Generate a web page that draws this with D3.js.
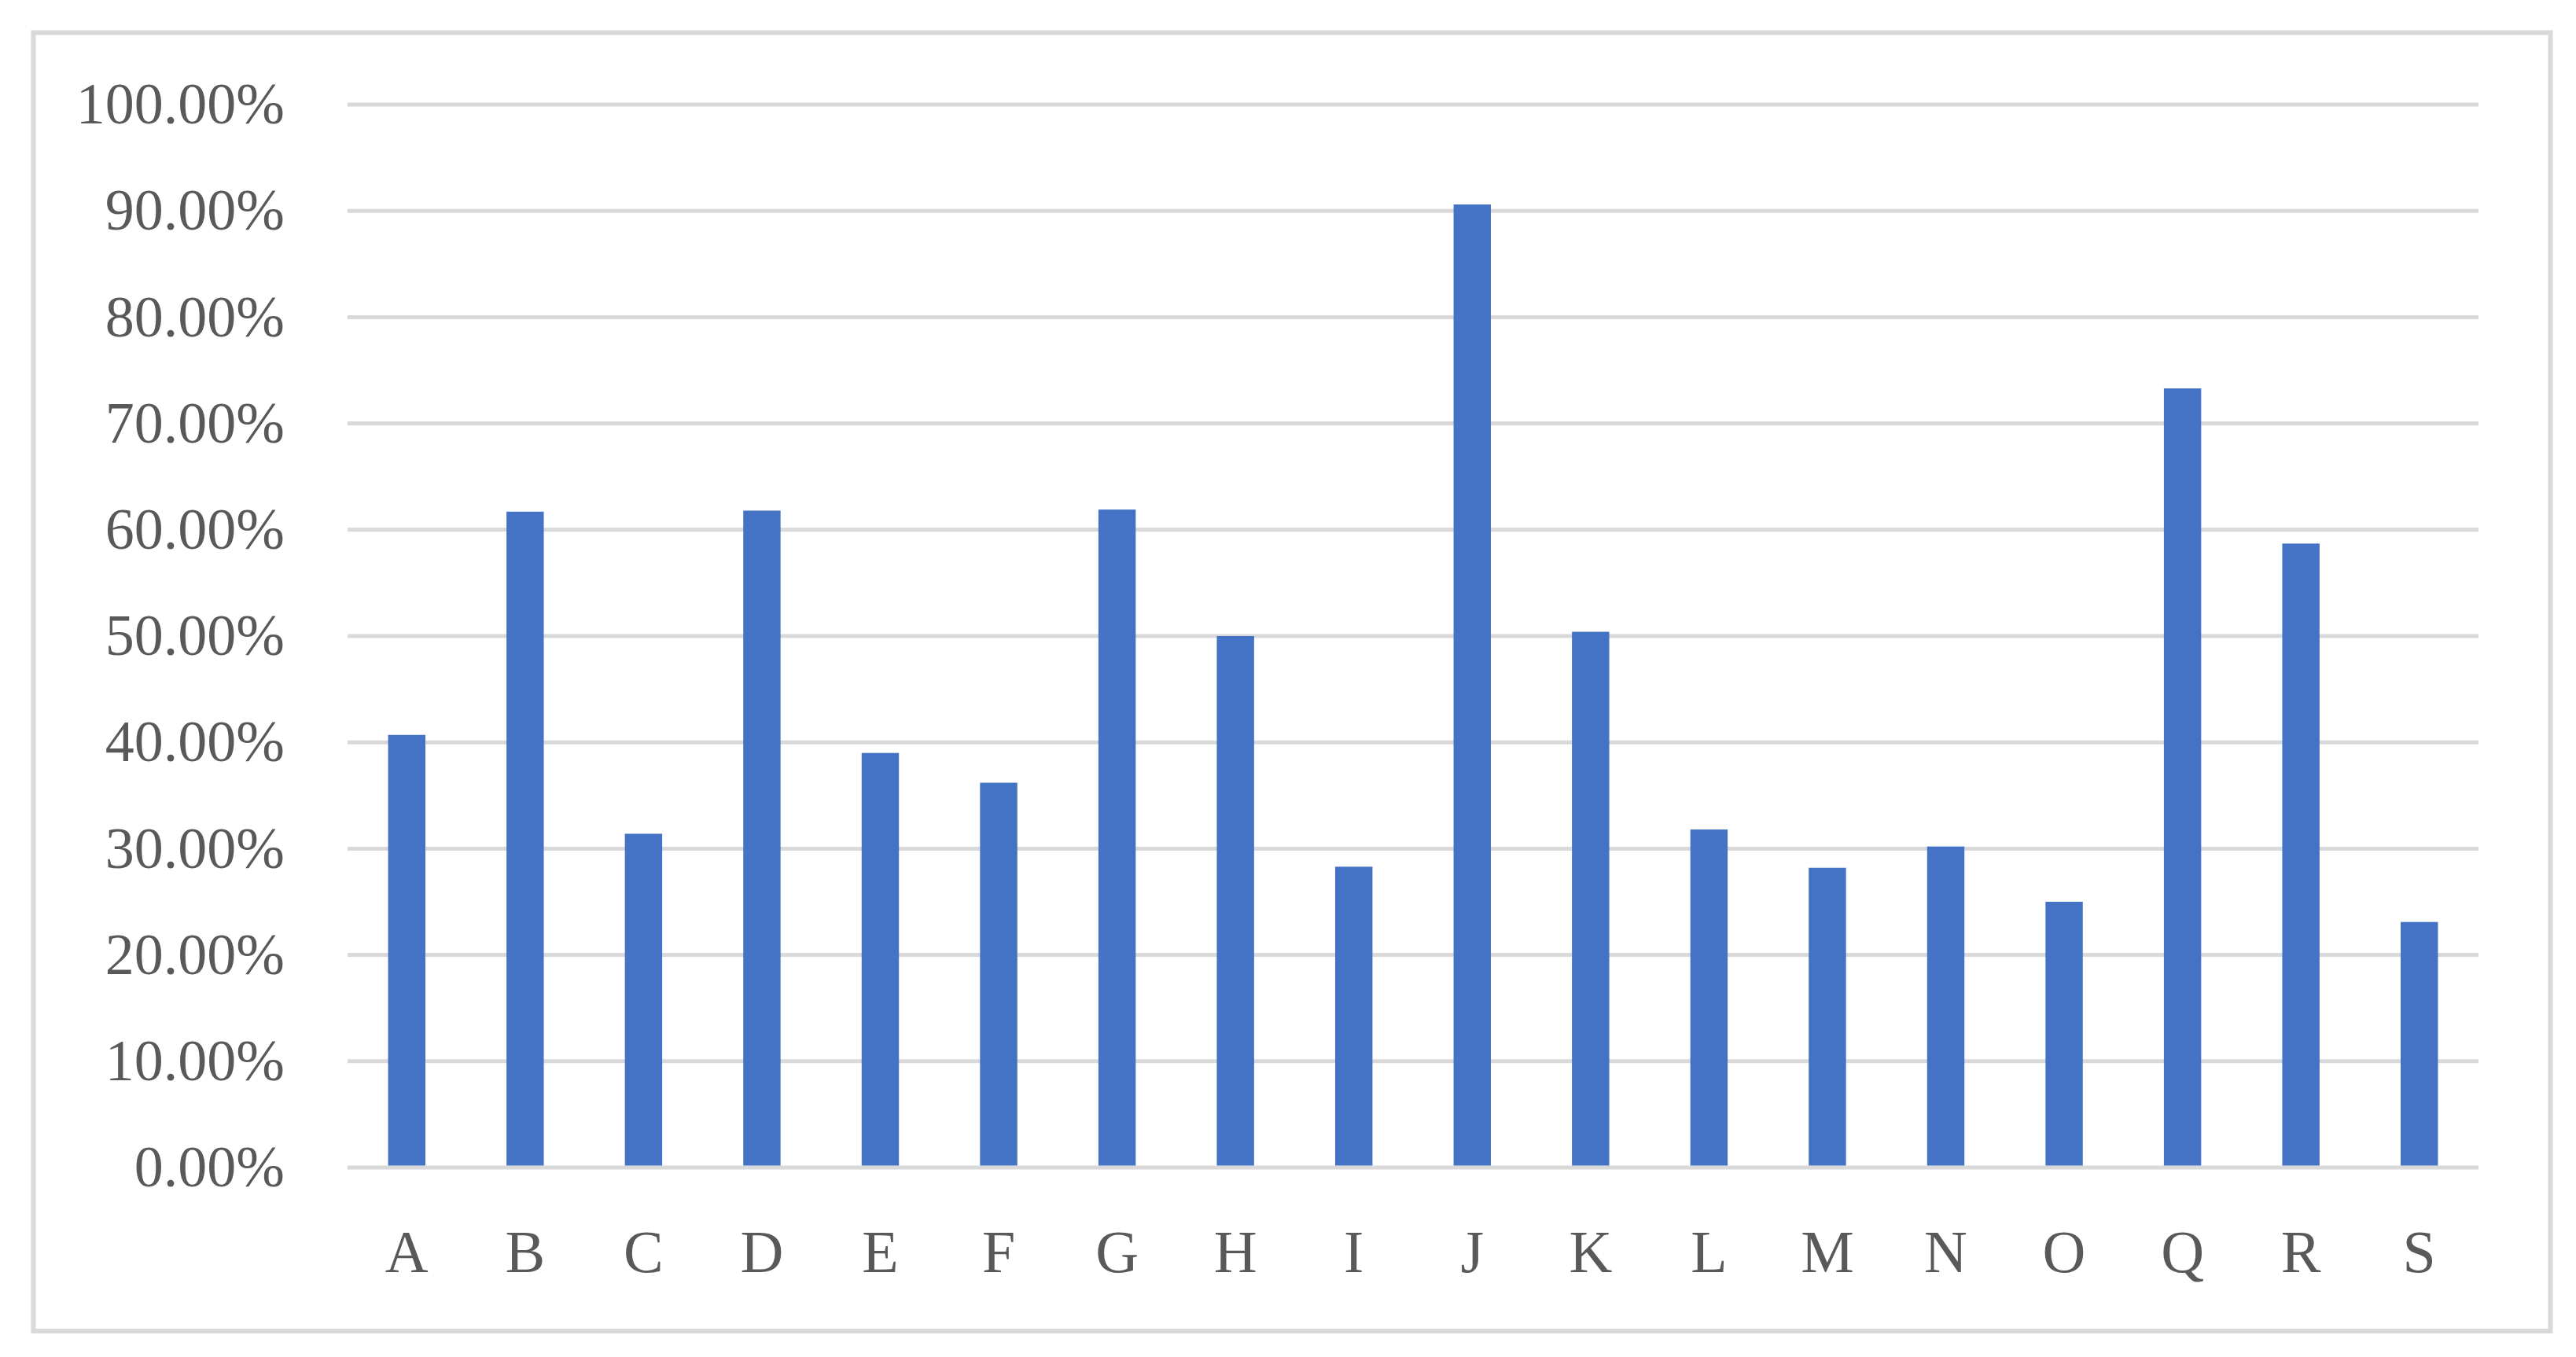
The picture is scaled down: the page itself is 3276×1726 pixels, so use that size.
<!DOCTYPE html>
<html>
<head>
<meta charset="utf-8">
<script src="https://cdn.jsdelivr.net/npm/d3@7"></script>
<style>
  body { margin: 0; background: #fff; }
</style>
</head>
<body>
<div id="chart"></div>
<script>
// Data
var categories = ["A", "B", "C", "D", "E", "F", "G", "H", "I", "J", "K", "L", "M", "N", "O", "Q", "R", "S"];
var values = [40.7, 61.7, 31.4, 61.8, 39.0, 36.2, 61.9, 50.0, 28.3, 90.6, 50.4, 31.8, 28.2, 30.2, 25.0, 73.3, 58.7, 23.1];
var yTicks = [0, 10, 20, 30, 40, 50, 60, 70, 80, 90, 100];

// Chart size
var width = 3276;
var height = 1726;

// Margins
var margin = { top: 133, right: 124, bottom: 241, left: 442 };

var innerWidth = width - margin.left - margin.right;
var innerHeight = height - margin.top - margin.bottom;

var fontFamily = "'Palatino Linotype', 'Book Antiqua', Palatino, 'Liberation Serif', serif";
var textColor = "#595959";
var gridColor = "#d9d9d9";

// Create SVG
var svg = d3.select("#chart")
  .append("svg")
  .attr("width", width)
  .attr("height", height);

// Outer frame
svg.append("rect")
  .attr("x", 42.5)
  .attr("y", 41.5)
  .attr("width", 3201)
  .attr("height", 1651.5)
  .attr("fill", "none")
  .attr("stroke", gridColor)
  .attr("stroke-width", 6);

// Chart group
var chartGroup = svg.append("g")
  .attr("transform", "translate(" + margin.left + "," + margin.top + ")");

// Scales
var xScale = d3.scaleBand()
  .domain(categories)
  .range([0, innerWidth])
  .paddingInner(0.685)
  .paddingOuter(0.3425);

var yScale = d3.scaleLinear()
  .domain([0, 100])
  .range([innerHeight, 0]);

// Gridlines
chartGroup.append("g")
  .selectAll("line")
  .data(yTicks)
  .enter()
  .append("line")
  .attr("x1", 0)
  .attr("x2", innerWidth)
  .attr("y1", function (d) { return yScale(d); })
  .attr("y2", function (d) { return yScale(d); })
  .attr("stroke", gridColor)
  .attr("stroke-width", 5);

// Bars
chartGroup.append("g")
  .selectAll("rect")
  .data(values)
  .enter()
  .append("rect")
  .attr("x", function (d, i) { return xScale(categories[i]); })
  .attr("width", xScale.bandwidth())
  .attr("y", function (d) { return yScale(d); })
  .attr("height", function (d) { return innerHeight - 2.5 - yScale(d); })
  .attr("fill", "#4472c4");

// Y axis
var yAxis = chartGroup.append("g")
  .call(d3.axisLeft(yScale)
    .tickValues(yTicks)
    .tickSize(0)
    .tickPadding(80)
    .tickFormat(function (d) { return d.toFixed(2) + "%"; }));

yAxis.select(".domain").remove();
yAxis.selectAll("text")
  .attr("font-family", fontFamily)
  .attr("font-size", 74)
  .attr("fill", textColor);

// X axis
var xAxis = chartGroup.append("g")
  .attr("transform", "translate(0," + innerHeight + ")")
  .call(d3.axisBottom(xScale).tickSize(0));

xAxis.select(".domain").remove();
xAxis.selectAll("text")
  .attr("y", 133)
  .attr("dy", 0)
  .attr("font-family", fontFamily)
  .attr("font-size", 76)
  .attr("fill", textColor);
</script>
</body>
</html>
